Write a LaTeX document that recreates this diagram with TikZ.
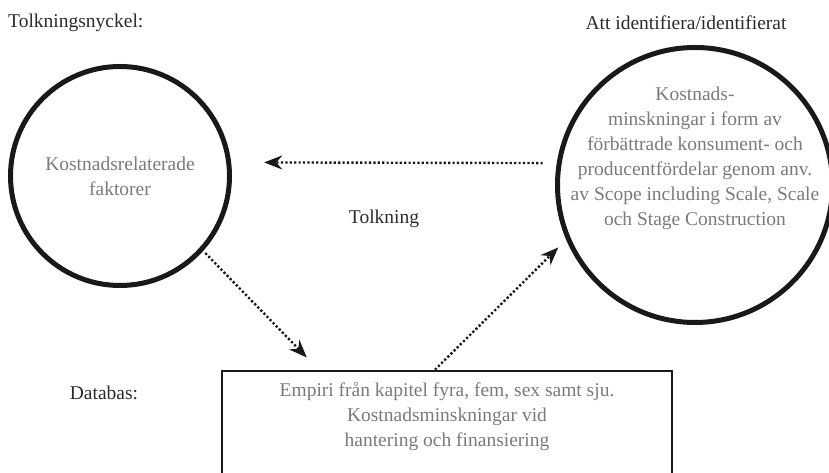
\documentclass[tikz,border=0pt]{standalone}
\usepackage{fontspec}
\setmainfont{Liberation Serif}
\usetikzlibrary{%
  arrows.meta,%
  positioning%
}
\definecolor{softgray}{HTML}{7A7A7A}
\definecolor{inkgray}{HTML}{2B2B2B}

\begin{document}
\begin{tikzpicture}[x=1pt,y=1pt,
    every node/.style={font=\fontsize{19.5}{25}\selectfont,inner sep=0pt},
    ring/.style={draw=black!90,line width=5pt,circle},
    note/.style={text=softgray,align=center},
    caption/.style={text=inkgray},
    link/.style={-{Stealth[length=18pt,width=14pt]},line width=2.4pt,
      dash pattern=on 2.2pt off 2.2pt,black!90}]
      \useasboundingbox (0,0) rectangle (829,473);
      \node [ring,minimum size=219pt] (factors) at (120,297) {};
      \node [note] at (factors.center) {Kostnadsrelaterade\\faktorer};
      \node [ring,minimum size=275pt] (gains) at (695,288) {};
      \node [note] at ([yshift=27pt]gains.center)
        {Kostnads-\\minskningar i form av\\förbättrade konsument- och\\
         producentfördelar genom anv.\\av Scope including Scale, Scale\\
         och Stage Construction};
      \node [draw=black!90,line width=2.6pt,minimum width=450pt,minimum height=122pt]
        (data) at (447,41) {};
      \node [note] at ([yshift=-47pt]data.north)
        {Empiri från kapitel fyra, fem, sex samt sju.\\Kostnadsminskningar vid\\
         hantering och finansiering};
      \node [caption,anchor=west] (key) at (8,450) {Tolkningsnyckel:};
      \node [caption] (goal) at (686,450) {Att identifiera/identifierat};
      \node [caption] (reading) at (384,254) {Tolkning};
      \node [caption] (base) at (104,80) {Databas:};
      % arrows
      \draw [link,shorten <=14pt,shorten >=33pt] (gains.171) -- (factors.7);
      \draw [link,shorten <=3pt,shorten >=17pt] (factors.-42) -- ([xshift=98pt]data.north west);
      \draw [link,shorten >=11pt] ([xshift=-12pt]data.north) -- (gains.203);
\end{tikzpicture}
\end{document}
